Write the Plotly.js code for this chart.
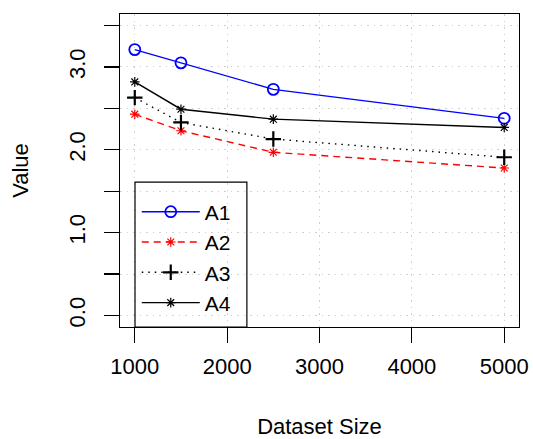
<!DOCTYPE html>
<html>
<head>
<meta charset="utf-8">
<script src="https://cdn.plot.ly/plotly-3.0.1.min.js"></script>
<style>html,body{margin:0;padding:0;background:#fff;}#chart{width:533px;height:439px;}</style>
</head>
<body>
<div id="chart"></div>
<script>
const sizes = [1000, 1500, 2500, 5000];
const A1 = [3.21, 3.05, 2.73, 2.38];
const A2 = [2.43, 2.23, 1.97, 1.78];
const A3 = [2.63, 2.33, 2.13, 1.91];
const A4 = [2.82, 2.49, 2.37, 2.27];
const seriesNames = ['A1', 'A2', 'A3', 'A4'];
const yTickVals = [0, 0.5, 1, 1.5, 2, 2.5, 3, 3.5];
const yTickText = ['0.0', '', '1.0', '', '2.0', '', '3.0', ''];
const xTickVals = [1000, 2000, 3000, 4000, 5000];

const FONT = 'Liberation Sans, Arial, Helvetica, sans-serif';
const FS = 22;
const traces = [
  {x: sizes, y: A1, name: seriesNames[0], mode: 'lines+markers',
   line: {color: '#0000FF', width: 1.4, dash: 'solid'},
   marker: {symbol: 'circle-open', size: 11, color: '#0000FF', line: {width: 1.8, color: '#0000FF'}}},
  {x: sizes, y: A2, name: seriesNames[1], mode: 'lines+markers',
   line: {color: '#FF0000', width: 1.4, dash: '7px,5px'},
   marker: {symbol: 'asterisk-open', size: 8, color: '#FF0000', line: {width: 1.2, color: '#FF0000'}}},
  {x: sizes, y: A3, name: seriesNames[2], mode: 'lines+markers',
   line: {color: '#000000', width: 1.4, dash: '1.5px,5px'},
   marker: {symbol: 'cross-thin-open', size: 11, color: '#000000', line: {width: 2.2, color: '#000000'}}},
  {x: sizes, y: A4, name: seriesNames[3], mode: 'lines+markers',
   line: {color: '#000000', width: 1.4, dash: 'solid'},
   marker: {symbol: 'asterisk-open', size: 8, color: '#000000', line: {width: 1.2, color: '#000000'}}}
];

const layout = {
  width: 533, height: 439,
  margin: {l: 120, r: 14, t: 14, b: 112, pad: 0},
  paper_bgcolor: '#fff', plot_bgcolor: '#fff',
  font: {family: FONT, size: FS, color: '#000'},
  showlegend: true,
  legend: {
    x: 0.042, y: 0.011, xanchor: 'left', yanchor: 'bottom',
    borderwidth: 0, bgcolor: 'rgba(0,0,0,0)',
    font: {family: FONT, size: 21, color: '#000'},
    tracegroupgap: 0, itemwidth: 58
  },
  shapes: [
    {type: 'rect', xref: 'paper', yref: 'paper', x0: 0.0376, x1: 0.318, y0: 0, y1: 0.463,
     line: {color: '#000', width: 1.2}, fillcolor: 'rgba(0,0,0,0)', layer: 'above'}
  ],
  xaxis: {
    range: [840, 5160], tickvals: xTickVals, ticktext: xTickVals.map(String),
    ticks: 'outside', ticklen: 15, tickwidth: 1.2, tickcolor: '#000',
    showline: true, linecolor: '#000', linewidth: 1.2, mirror: true,
    showgrid: true, gridcolor: '#CFCFCF', griddash: '1.5px,5px', gridwidth: 1,
    zeroline: false, ticklabelstandoff: 4,
    tickfont: {family: FONT, size: FS, color: '#000'},
    title: {text: 'Dataset Size', font: {family: FONT, size: FS, color: '#000'}, standoff: 52}
  },
  yaxis: {
    range: [-0.14, 3.64], tickvals: yTickVals, ticktext: yTickText, tickangle: -90,
    ticks: 'outside', ticklen: 15, tickwidth: 1.2, tickcolor: '#000',
    showline: true, linecolor: '#000', linewidth: 1.2, mirror: true,
    showgrid: true, gridcolor: '#CFCFCF', griddash: '1.5px,5px', gridwidth: 1,
    zeroline: false, ticklabelstandoff: 10,
    tickfont: {family: FONT, size: FS, color: '#000'},
    title: {text: 'Value', font: {family: FONT, size: FS, color: '#000'}, standoff: 30}
  }
};

Plotly.newPlot('chart', traces, layout, {displayModeBar: false, staticPlot: true});
</script>
</body>
</html>
